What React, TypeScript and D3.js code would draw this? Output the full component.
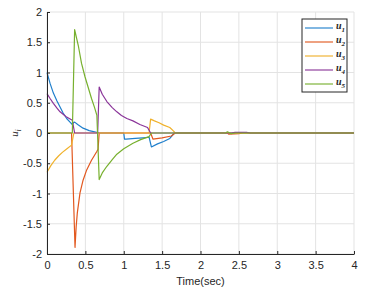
import { useEffect, useRef } from 'react'
import * as d3 from 'd3'

type Pt = [number, number]

// time ticks and u ticks
const xTicks = [0, 0.5, 1, 1.5, 2, 2.5, 3, 3.5, 4]
const yTicks = [-2, -1.5, -1, -0.5, 0, 0.5, 1, 1.5, 2]

const seriesNames = ['1', '2', '3', '4', '5']
const seriesColors = ['#1f7fcc', '#e2581f', '#f0b12a', '#8a3499', '#77b02e']

const u1: Pt[] = [[0, 1], [0.04, 0.82], [0.083, 0.66], [0.13, 0.53], [0.17, 0.43], [0.21, 0.33], [0.256, 0.24], [0.3, 0.18], [0.33, 0.14], [0.345, 0.17], [0.36, 0.18], [0.4, 0.14], [0.47, 0.08], [0.55, 0.04], [0.62, 0.02], [0.68, 0], [1.0, 0], [1.01, -0.1], [1.03, -0.1], [1.15, -0.09], [1.25, -0.08], [1.33, -0.07], [1.36, -0.23], [1.44, -0.18], [1.52, -0.14], [1.6, -0.09], [1.66, 0], [4, 0]]
const u2: Pt[] = [[0, 0], [0.32, 0], [0.365, -1.89], [0.38, -1.55], [0.395, -1.32], [0.43, -0.99], [0.47, -0.78], [0.517, -0.61], [0.58, -0.45], [0.647, -0.31], [0.665, -0.27], [0.68, 0], [1.35, 0], [1.38, -0.1], [1.5, -0.08], [1.62, -0.05], [1.67, 0], [2.35, 0], [2.37, -0.02], [2.5, -0.01], [2.55, 0], [4, 0]]
const u3: Pt[] = [[0, -0.65], [0.05, -0.54], [0.1, -0.45], [0.15, -0.38], [0.2, -0.32], [0.26, -0.26], [0.32, -0.2], [0.35, 0], [1.33, 0], [1.35, 0.23], [1.4, 0.2], [1.46, 0.17], [1.52, 0.13], [1.6, 0.09], [1.65, 0.03], [1.67, 0], [4, 0]]
const u4: Pt[] = [[0, 0.65], [0.04, 0.57], [0.083, 0.49], [0.13, 0.41], [0.17, 0.35], [0.25, 0.27], [0.33, 0.21], [0.36, 0], [0.66, 0], [0.68, 0.76], [0.72, 0.64], [0.78, 0.52], [0.85, 0.42], [0.91, 0.35], [0.97, 0.29], [1.04, 0.24], [1.12, 0.2], [1.21, 0.14], [1.31, 0.09], [1.35, 0], [2.4, 0], [2.45, 0.01], [2.6, 0.01], [2.65, 0], [4, 0]]
const u5: Pt[] = [[0, 0], [0.33, 0], [0.36, 1.71], [0.41, 1.43], [0.45, 1.15], [0.495, 0.93], [0.54, 0.74], [0.58, 0.57], [0.62, 0.42], [0.65, 0.29], [0.68, -0.77], [0.72, -0.66], [0.78, -0.55], [0.85, -0.44], [0.91, -0.35], [1.0, -0.26], [1.12, -0.17], [1.22, -0.11], [1.33, -0.06], [1.36, 0], [2.33, 0], [2.35, 0.02], [2.4, -0.01], [2.45, 0], [4, 0]]

const allSeries = [u1, u2, u3, u4, u5]

export default function App() {
  const svgRef = useRef<SVGSVGElement>(null)

  useEffect(() => {
    if (!svgRef.current) return
    const width = 379
    const height = 291
    const m = { top: 12, right: 25, bottom: 37, left: 47 }
    const iW = width - m.left - m.right
    const iH = height - m.top - m.bottom

    const svg = d3.select(svgRef.current)
    svg.selectAll('*').remove()
    svg.attr('width', width).attr('height', height)

    const g = svg.append('g').attr('transform', `translate(${m.left},${m.top})`)

    const x = d3.scaleLinear().domain([0, 4]).range([0, iW])
    const y = d3.scaleLinear().domain([-2, 2]).range([iH, 0])

    // grid
    g.append('g').selectAll('line').data(xTicks).enter().append('line')
      .attr('x1', d => x(d)).attr('x2', d => x(d)).attr('y1', 0).attr('y2', iH)
      .attr('stroke', '#e3e3e3').attr('stroke-width', 1)
    g.append('g').selectAll('line').data(yTicks).enter().append('line')
      .attr('x1', 0).attr('x2', iW).attr('y1', d => y(d)).attr('y2', d => y(d))
      .attr('stroke', '#e3e3e3').attr('stroke-width', 1)

    // lines
    const line = d3.line<Pt>().x(d => x(d[0])).y(d => y(d[1]))
    allSeries.forEach((s, i) => {
      g.append('path').datum(s)
        .attr('fill', 'none').attr('stroke', seriesColors[i]).attr('stroke-width', 1.2)
        .attr('stroke-linejoin', 'round')
        .attr('d', line)
    })

    // axes (ticks inward)
    const styleAxis = (ax: d3.Selection<SVGGElement, unknown, null, undefined>) => {
      ax.select('.domain').attr('stroke', '#262626')
      ax.selectAll('.tick line').attr('stroke', '#262626')
      ax.selectAll('.tick text').attr('fill', '#262626').attr('font-size', '11px')
        .attr('font-family', '"Liberation Sans", Arial, sans-serif')
    }
    g.append('g').attr('transform', `translate(0,${iH})`)
      .call(d3.axisBottom(x).tickValues(xTicks).tickSizeInner(-3).tickSizeOuter(0).tickPadding(7).tickFormat(d => `${d}`))
      .call(styleAxis)
    g.append('g')
      .call(d3.axisLeft(y).tickValues(yTicks).tickSizeInner(-3).tickSizeOuter(0).tickPadding(5).tickFormat(d => `${d}`))
      .call(styleAxis)

    // axis labels
    g.append('text').attr('x', iW / 2).attr('y', iH + 31).attr('text-anchor', 'middle')
      .attr('fill', '#262626').attr('font-size', '11px').attr('font-family', '"Liberation Sans", Arial, sans-serif')
      .text('Time(sec)')
    const yl = g.append('text').attr('transform', `translate(-29,${iH / 2}) rotate(-90)`).attr('text-anchor', 'middle')
      .attr('fill', '#262626').attr('font-size', '11px').attr('font-family', '"Liberation Serif", serif').attr('font-style', 'italic')
    yl.append('tspan').text('u')
    yl.append('tspan').attr('font-size', '8px').attr('dy', 3).text('i')

    // legend
    const lg = svg.append('g').attr('transform', 'translate(302,19)')
    lg.append('rect').attr('width', 45).attr('height', 73).attr('fill', '#fff').attr('stroke', '#262626').attr('stroke-width', 1)
    seriesNames.forEach((n, i) => {
      const ly = 9 + i * 14
      lg.append('line').attr('x1', 3).attr('x2', 31).attr('y1', ly).attr('y2', ly)
        .attr('stroke', seriesColors[i]).attr('stroke-width', 1.5).attr('opacity', 0.75)
      const t = lg.append('text').attr('x', 34).attr('y', ly + 1)
        .attr('fill', '#262626').attr('font-size', '10px').attr('font-family', '"Liberation Serif", serif')
        .attr('font-style', 'italic').attr('font-weight', 'bold')
      t.append('tspan').text('u')
      t.append('tspan').attr('font-size', '7px').attr('dy', 3).text(n)
    })
  }, [])

  return (
    <div style={{ position: 'absolute', left: 0, top: 0, background: '#fff' }}>
      <svg ref={svgRef} style={{ display: 'block' }} />
    </div>
  )
}
